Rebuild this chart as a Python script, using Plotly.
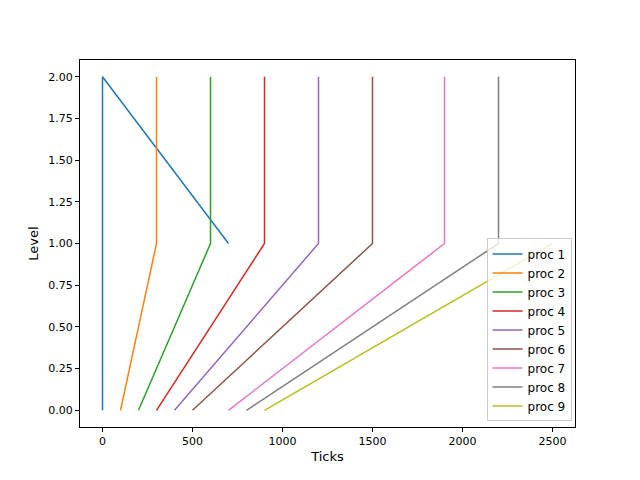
import plotly.graph_objects as go

names = ["proc %d" % i for i in range(1, 10)]
xs = [
    [0, 0, 700],
    [100, 300, 300],
    [200, 600, 600],
    [300, 900, 900],
    [400, 1200, 1200],
    [500, 1500, 1500],
    [700, 1900, 1900],
    [800, 2200, 2200],
    [900, 2500],
]
ys = [
    [0, 2, 1],
    [0, 1, 2],
    [0, 1, 2],
    [0, 1, 2],
    [0, 1, 2],
    [0, 1, 2],
    [0, 1, 2],
    [0, 1, 2],
    [0, 1],
]
colors = ["#1f77b4", "#ff7f0e", "#2ca02c", "#d62728", "#9467bd",
          "#8c564b", "#e377c2", "#7f7f7f", "#bcbd22"]

fig = go.Figure()
for n, x, y, c in zip(names, xs, ys, colors):
    fig.add_trace(go.Scatter(x=x, y=y, mode="lines", name=n,
                             line=dict(color=c, width=1.5)))

axis = dict(showgrid=False, zeroline=False, showline=True, mirror=True,
            linecolor="black", linewidth=1, ticks="outside", ticklen=4,
            tickcolor="black", tickfont=dict(size=11))
fig.update_layout(
    width=640, height=480,
    margin=dict(l=72, r=73, t=52, b=61),
    plot_bgcolor="white", paper_bgcolor="white",
    font=dict(family="DejaVu Sans", color="black", size=11),
    xaxis=dict(axis, range=[-125, 2625], tickvals=[0, 500, 1000, 1500, 2000, 2500],
               title=dict(text="Ticks", standoff=4)),
    yaxis=dict(axis, range=[-0.1, 2.1], tickvals=[i * 0.25 for i in range(9)],
               tickformat=".2f", title=dict(text="Level", standoff=6)),
    legend=dict(x=0.993, y=0.015, xanchor="right", yanchor="bottom",
                bgcolor="rgba(255,255,255,0.8)", bordercolor="#cccccc",
                borderwidth=1, font=dict(size=12), tracegroupgap=0),
)
fig.write_html("out.html")
